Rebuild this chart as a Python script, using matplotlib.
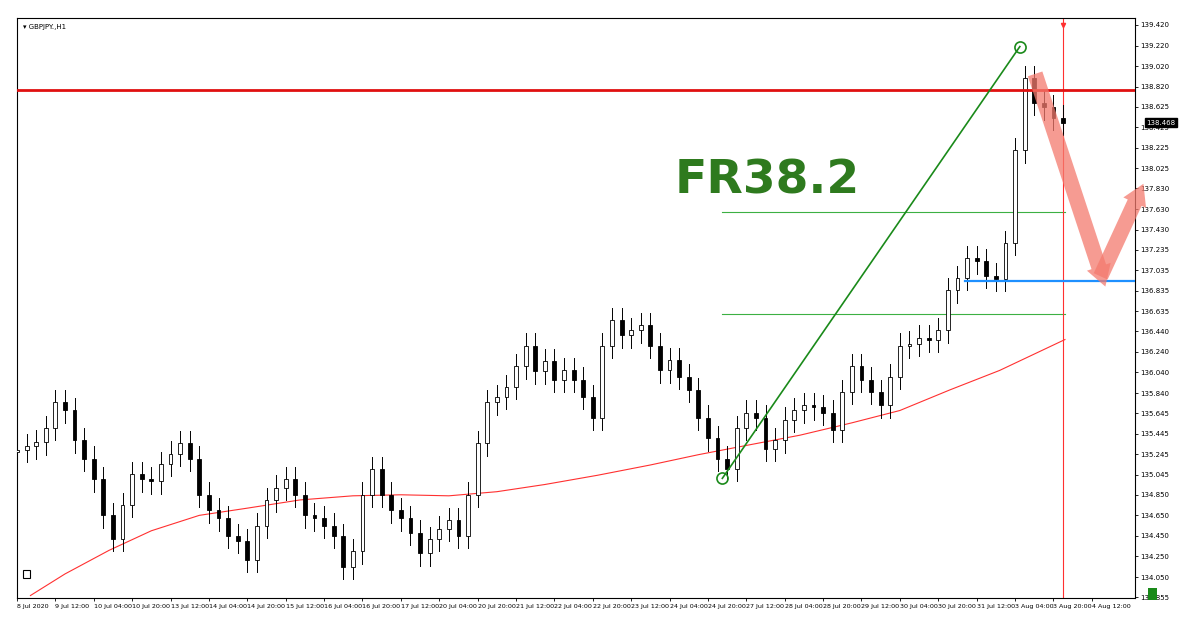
import matplotlib.pyplot as plt
from matplotlib.patches import Rectangle

# 4-hour closes (GBPJPY)
closes = [135.29, 135.32, 135.36, 135.5, 135.75, 135.67, 135.38, 135.2, 135.0, 134.65,
          134.42, 134.75, 135.05, 135.0, 134.98, 135.15, 135.25, 135.35, 135.2, 134.85,
          134.7, 134.62, 134.45, 134.4, 134.22, 134.55, 134.8, 134.92, 135.0, 134.85,
          134.65, 134.62, 134.55, 134.45, 134.15, 134.3, 134.85, 135.1, 134.85, 134.7,
          134.62, 134.48, 134.28, 134.42, 134.52, 134.6, 134.45, 134.85, 135.35, 135.75,
          135.8, 135.9, 136.1, 136.3, 136.05, 136.15, 135.97, 136.06, 135.97, 135.8,
          135.6, 136.3, 136.55, 136.4, 136.45, 136.5, 136.3, 136.06, 136.16, 136.0,
          135.87, 135.6, 135.4, 135.2, 135.1, 135.5, 135.65, 135.6, 135.3, 135.38,
          135.58, 135.67, 135.72, 135.7, 135.65, 135.48, 135.85, 136.1, 135.97, 135.85,
          135.72, 136.0, 136.3, 136.32, 136.38, 136.36, 136.45, 136.84, 136.96, 137.15,
          137.12, 136.98, 136.95, 137.3, 138.2, 138.9, 138.66, 138.62, 138.52, 138.47]
first_open = 135.27
wick = 0.12

ma_x = [1.4, 5, 9.6, 14, 19, 24, 29.5, 35, 40, 45, 50, 55, 60.5, 66, 71, 76, 81.6, 87, 92, 97.2, 102.4, 109.2]
ma_y = [133.87, 134.08, 134.31, 134.50, 134.65, 134.72, 134.80, 134.84, 134.85, 134.84, 134.88, 134.95,
        135.04, 135.14, 135.24, 135.33, 135.43, 135.55, 135.67, 135.87, 136.06, 136.36]

ytick_vals = [139.420, 139.220, 139.020, 138.820, 138.625, 138.425, 138.225, 138.025, 137.830,
              137.630, 137.430, 137.235, 137.035, 136.835, 136.635, 136.440, 136.240, 136.040,
              135.840, 135.645, 135.445, 135.245, 135.045, 134.850, 134.650, 134.450, 134.250,
              134.050, 133.855]
xtick_labels = ["8 Jul 2020", "9 Jul 12:00", "10 Jul 04:00", "10 Jul 20:00", "13 Jul 12:00",
                "14 Jul 04:00", "14 Jul 20:00", "15 Jul 12:00", "16 Jul 04:00", "16 Jul 20:00",
                "17 Jul 12:00", "20 Jul 04:00", "20 Jul 20:00", "21 Jul 12:00", "22 Jul 04:00",
                "22 Jul 20:00", "23 Jul 12:00", "24 Jul 04:00", "24 Jul 20:00", "27 Jul 12:00",
                "28 Jul 04:00", "28 Jul 20:00", "29 Jul 12:00", "30 Jul 04:00", "30 Jul 20:00",
                "31 Jul 12:00", "3 Aug 04:00", "3 Aug 20:00", "4 Aug 12:00"]

red_level = 138.79
fib_hi, fib_lo = 137.60, 136.61
blue_level = 136.93
swing = [(73.5, 135.01), (104.5, 139.21)]

fig = plt.figure(figsize=(12, 6.32), dpi=100)
ax = fig.add_axes([17/1200, 1-598/632, (1135-17)/1200, 580/632])
ax.set_xlim(0, 116.5)
ax.set_ylim(133.846, 139.488)

opens = [first_open] + closes[:-1]
for i, (o, c) in enumerate(zip(opens, closes)):
    hi, lo = max(o, c) + wick, min(o, c) - wick
    ax.plot([i, i], [lo, hi], color='black', lw=0.7, zorder=3)
    ax.add_patch(Rectangle((i - 0.2, min(o, c)), 0.4, max(abs(c - o), 0.01),
                           facecolor='white' if c >= o else 'black', edgecolor='black', lw=0.6, zorder=4))

ax.plot(ma_x, ma_y, color='#ff3030', lw=0.8, zorder=2)
ax.axhline(red_level, color='#e01010', lw=2, zorder=5)
ax.plot([swing[0][0], 109.2], [fib_hi, fib_hi], color='#3cb043', lw=0.8)
ax.plot([swing[0][0], 109.2], [fib_lo, fib_lo], color='#3cb043', lw=0.8)
ax.plot([98.75, 116.5], [blue_level, blue_level], color='#1e90ff', lw=1.6, zorder=5)
ax.plot([p[0] for p in swing], [p[1] for p in swing], color='#1a8a1a', lw=1.2, zorder=5)
for px, py in swing:
    ax.plot(px, py, 'o', ms=8, mfc='none', mec='#1a8a1a', mew=1.2, zorder=6)
ax.axvline(109.0, color='#ff3030', lw=0.8)
ax.plot(109.0, 139.42, marker='v', color='#ff3030', ms=3)

ax.text(68.5, 137.9, "FR38.2", color='#2e7a1e', fontsize=34, fontweight='bold', va='center')
arrow = dict(arrowstyle='simple,head_width=1.8,head_length=1.5,tail_width=1.1',
             color='#f47a6e', alpha=0.75, lw=0)
ax.annotate('', xy=(113.5, 136.85), xytext=(106, 138.97), arrowprops=arrow, zorder=7)
ax.annotate('', xy=(117.5, 137.9), xytext=(112.8, 136.95), arrowprops=arrow,
            zorder=7, annotation_clip=False).arrow_patch.set_clip_on(False)

ax.yaxis.tick_right()
ax.set_yticks(ytick_vals)
ax.set_yticklabels([f"{v:.3f}" for v in ytick_vals], fontsize=5)
ax.set_xticks([4 * k for k in range(len(xtick_labels))])
ax.set_xticklabels(xtick_labels, fontsize=4.6, ha='left')
ax.tick_params(length=2, pad=2, width=0.6)
for s in ax.spines.values():
    s.set_linewidth(0.8)

ax.text(1.01, 138.468, "138.468", transform=ax.get_yaxis_transform(), fontsize=5, color='white',
        va='center', bbox=dict(boxstyle='square,pad=0.2', fc='black', ec='black'))
ax.text(0.005, 0.99, "\u25be GBPJPY.,H1", transform=ax.transAxes, fontsize=5, va='top')
ax.add_patch(Rectangle((0.005, 0.035), 0.007, 0.014, transform=ax.transAxes, fill=False, lw=0.8))
fig.patches.append(Rectangle((1148/1200, 1-600/632), 9/1200, 12/632, transform=fig.transFigure,
                             fc='#1a8a1a', ec='none'))

fig.savefig('out.png', dpi=100, facecolor='white')
